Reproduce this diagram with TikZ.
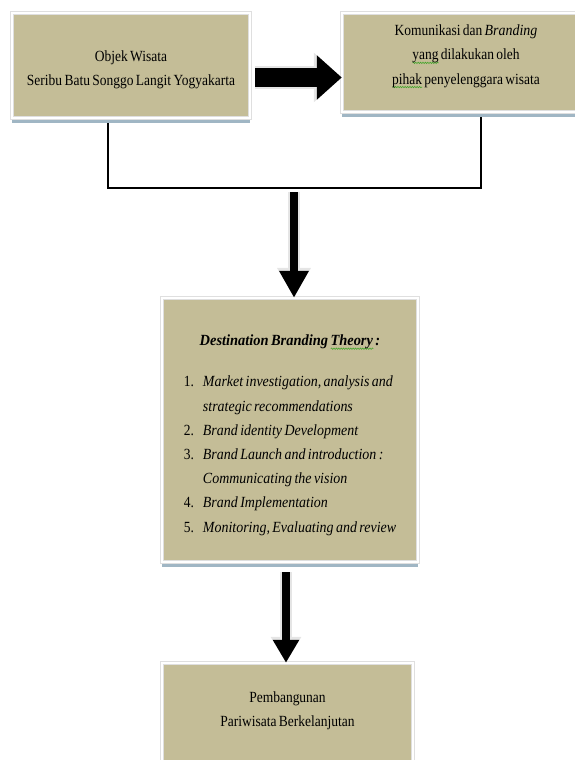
\documentclass[tikz,border=0pt]{standalone}
\usepackage{fontspec}
\setmainfont{Liberation Serif}[FakeStretch=0.87, WordSpace=0.7,
  ItalicFeatures={FakeStretch=0.9}, BoldItalicFeatures={FakeStretch=0.93}]
\usetikzlibrary{arrows.meta,shadows,decorations.pathmorphing}
\definecolor{boxtan}{RGB}{196,189,151}
\definecolor{boxshadow}{RGB}{160,182,196}
\definecolor{squiggle}{RGB}{70,165,45}
\newsavebox{\squigbox}
\newcommand{\squig}[1]{\sbox{\squigbox}{#1}\rlap{\tikz[baseline=0pt]\draw[squiggle, line width=0.6pt,
  decorate, decoration={snake, amplitude=0.7pt, segment length=2.4pt}] (0pt,-3pt) -- (\wd\squigbox,-3pt);}#1}
\newcommand{\lowpad}[1]{\rule[-#1]{0pt}{0pt}}
\newcommand{\toppad}[1]{\rule{0pt}{#1}}

\begin{document}
\begin{tikzpicture}[x=1pt, y=-1pt,
    tanbox/.style={fill=boxtan, draw=gray!25, line width=0.5pt, double=white, double distance=2.5pt,
      drop shadow={shadow xshift=0pt, shadow yshift=-5pt, fill=boxshadow, opacity=1},
      align=center, font=\fontsize{15.5}{24.2}\selectfont},
    joinline/.style={draw=black, line width=2pt},
    rim/.style={draw=gray!20},
    core/.style={draw=black}]

  \useasboundingbox (0,0) rectangle (574,760);

  % Draw boxes
  \node[tanbox, minimum width=238pt, minimum height=105pt] (objek) at (131,65.5)
    {\toppad{19pt}Objek Wisata\\Seribu Batu Songgo Langit Yogyakarta};
  \node[tanbox, minimum width=248pt, minimum height=99pt] (komunikasi) at (466,62.5)
    {Komunikasi dan \textit{Branding}\\\squig{yang} dilakukan oleh\\\squig{pihak} penyelenggara wisata\lowpad{16pt}};
  \node[tanbox, minimum width=256pt, minimum height=264pt] (teori) at (290,430)
    {\toppad{25pt}\textbf{\textit{Destination Branding \squig{Theory} :}}\\[17pt]
     \begin{tabular}[t]{@{}l@{\hspace{9pt}}l@{}}
       1. & \textit{Market investigation, analysis and}\\
          & \textit{strategic recommendations}\\
       2. & \textit{Brand identity Development}\\
       3. & \textit{Brand Launch and introduction :}\\
          & \textit{Communicating the vision}\\
       4. & \textit{Brand Implementation}\\
       5. & \textit{Monitoring, Evaluating and review}
     \end{tabular}};
  \node[tanbox, minimum width=251pt, minimum height=117pt] (pembangunan) at (287.5,721.5)
    {Pembangunan\\Pariwisata Berkelanjutan\lowpad{24pt}};

  % Draw fat arrow between the top boxes
  \draw[rim, line width=23pt, -{Triangle[width=48pt,length=28pt]}, shorten <=5pt]
    ([yshift=-12pt]objek.east) -- ([yshift=-12pt]objek.east -| komunikasi.west);
  \draw[core, line width=19pt, -{Triangle[width=43pt,length=25pt]}, shorten <=5pt]
    ([yshift=-12pt]objek.east) -- ([yshift=-12pt]objek.east -| komunikasi.west);

  % Draw joining lines
  \coordinate (join) at (294,188);
  \draw[joinline, shorten <=5pt, shorten >=5pt]
    ([xshift=-23pt]objek.south) |- (join) -| ([xshift=15pt]komunikasi.south);

  % Draw arrow down to the theory box
  \draw[rim, line width=12pt, -{Triangle[width=32pt,length=30pt]}, shorten <=4pt]
    (join) -- (join |- teori.north);
  \draw[core, line width=8pt, -{Triangle[width=28pt,length=27pt]}, shorten <=4pt]
    (join) -- (join |- teori.north);

  % Draw arrow down to the last box
  \draw[rim, line width=12pt, -{Triangle[width=29pt,length=26pt]}, shorten <=10pt]
    ([xshift=-4pt]teori.south) -- ([xshift=-4pt]teori.south |- pembangunan.north);
  \draw[core, line width=8pt, -{Triangle[width=25pt,length=23pt]}, shorten <=10pt]
    ([xshift=-4pt]teori.south) -- ([xshift=-4pt]teori.south |- pembangunan.north);

\end{tikzpicture}
\end{document}
